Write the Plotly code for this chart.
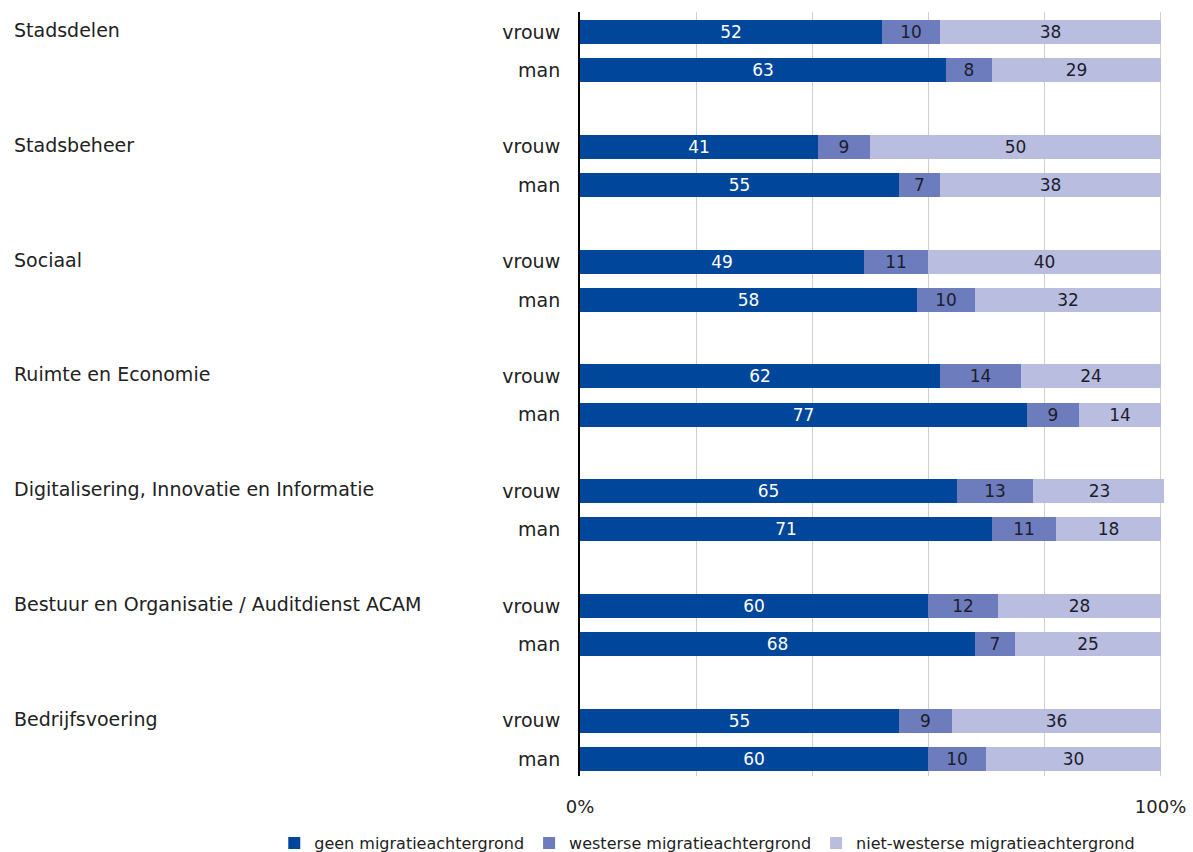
import plotly.graph_objects as go

# Afdelingen (clusters) en geslacht
clusters = [
    "Stadsdelen",
    "Stadsbeheer",
    "Sociaal",
    "Ruimte en Economie",
    "Digitalisering, Innovatie en Informatie",
    "Bestuur en Organisatie / Auditdienst ACAM",
    "Bedrijfsvoering",
]
genders = ["vrouw", "man"]

# Percentages per cluster: [vrouw, man]
geen = [[52, 63], [41, 55], [49, 58], [62, 77], [65, 71], [60, 68], [55, 60]]
westers = [[10, 8], [9, 7], [11, 10], [14, 9], [13, 11], [12, 7], [9, 10]]
niet_westers = [[38, 29], [50, 38], [40, 32], [24, 14], [23, 18], [28, 25], [36, 30]]

series_names = [
    "geen migratieachtergrond",
    "westerse migratieachtergrond",
    "niet-westerse migratieachtergrond",
]
series_values = [geen, westers, niet_westers]
series_colors = ["#00469a", "#6c7cbd", "#b9bde0"]
text_colors = ["#ffffff", "#1d1d2b", "#1d1d2b"]

x_tickvals = [0, 20, 40, 60, 80, 100]
x_ticktext = ["0%", "", "", "", "", "100%"]

# Each cluster takes three slots: vrouw, man, gap
slots, slot_labels = [], []
for i, _ in enumerate(clusters):
    for j, g in enumerate(genders):
        slots.append(i * 3 + j)
        slot_labels.append(g)

FONT = "DejaVu Sans"
TXT = "#222222"
W, H = 1193, 852
M_L, M_T, M_B = 580, 12, 76
PLOT_W = 584.5
PLOT_H = H - M_T - M_B

fig = go.Figure()
for name, vals, col, tcol in zip(series_names, series_values, series_colors, text_colors):
    flat = [v for pair in vals for v in pair]
    fig.add_trace(go.Bar(
        y=slots,
        x=flat,
        orientation="h",
        name=name,
        marker=dict(color=col, line=dict(width=0)),
        width=0.63,
        text=[str(v) for v in flat],
        textposition="inside",
        insidetextanchor="middle",
        textangle=0,
        constraintext="none",
        textfont=dict(family=FONT, size=17, color=tcol),
        hoverinfo="skip",
    ))

for i, c in enumerate(clusters):
    fig.add_annotation(
        text=c, xref="paper", yref="y",
        x=-(M_L - 12) / PLOT_W, y=i * 3 - 0.05,
        xanchor="left", yanchor="middle", showarrow=False,
        font=dict(family=FONT, size=19, color=TXT),
    )

fig.update_layout(
    barmode="stack",
    width=W, height=H,
    margin=dict(l=M_L, r=W - M_L - PLOT_W, t=M_T, b=M_B, autoexpand=False),
    paper_bgcolor="white", plot_bgcolor="white",
    showlegend=True,
    legend=dict(
        orientation="h",
        xref="paper", x=(274 - M_L) / PLOT_W, xanchor="left",
        yref="paper", y=-(843 - (H - M_B)) / PLOT_H, yanchor="middle",
        font=dict(family=FONT, size=16, color=TXT),
        itemwidth=30, tracegroupgap=0, traceorder="normal",
    ),
    bargap=0,
)
fig.update_xaxes(
    range=[0, 100.6], tickvals=x_tickvals, ticktext=x_ticktext,
    showgrid=True, gridcolor="#cfcfcf", gridwidth=1,
    zeroline=False, showline=False,
    tickfont=dict(family=FONT, size=18, color=TXT),
    ticklabelstandoff=18,
)
fig.update_yaxes(
    range=[19 + 17 / 38.2, -20 / 38.2], tickvals=slots, ticktext=slot_labels,
    showgrid=False, zeroline=False,
    showline=True, linecolor="#000000", linewidth=2,
    tickfont=dict(family=FONT, size=19, color=TXT),
    ticks="", ticklabelstandoff=14,
)

fig.write_html("out.html")
